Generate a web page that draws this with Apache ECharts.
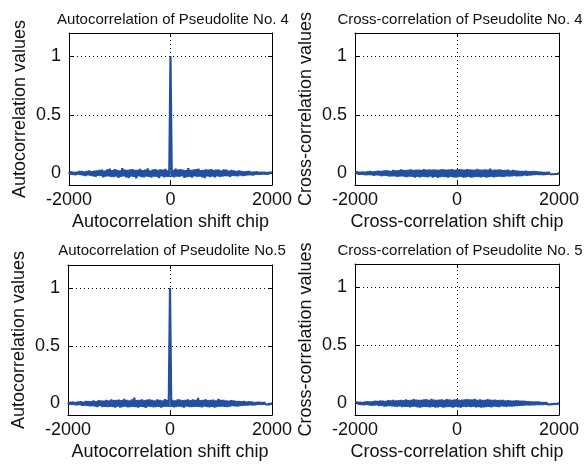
<!DOCTYPE html>
<html>
<head>
<meta charset="utf-8">
<script src="https://cdn.jsdelivr.net/npm/echarts@6/dist/echarts.min.js"></script>
<style>
  html, body { margin: 0; padding: 0; background: #fff; }
  #chart { width: 584px; height: 466px; }
</style>
</head>
<body>
<div id="chart"></div>
<script>
// shift chips: -2000 .. 2000, one sample every 25 chips (161 samples)
const shiftStart = -2000
const shiftStep = 25

const xTicks = [-2000, 0, 2000]
const yTicks = [0, 0.5, 1]

const titles = [
  'Autocorrelation of Pseudolite No. 4',
  'Cross-correlation of Pseudolite No. 4',
  'Autocorrelation of Pseudolite No.5',
  'Cross-correlation of Pseudolite No. 5'
]
const xNames = ['Autocorrelation shift chip', 'Cross-correlation shift chip', 'Autocorrelation shift chip', 'Cross-correlation shift chip']
const yNames = ['Autocorrelation values', 'Cross-correlation values', 'Autocorrelation values', 'Cross-correlation values']

const auto4 = [
  0.01,-0.01,0.015,-0.012,0.01,-0.015,0.012,-0.01,0.018,-0.014,
  0.02,-0.018,0.015,-0.022,0.02,-0.016,0.024,-0.02,0.018,-0.025,
  0.022,-0.03,0.025,-0.02,0.028,-0.024,0.03,-0.035,0.022,-0.028,
  0.032,-0.025,0.04,-0.03,0.026,-0.032,0.035,-0.028,0.03,-0.038,
  0.025,-0.03,0.045,-0.026,0.03,-0.034,0.028,-0.04,0.033,-0.027,
  0.036,-0.03,0.028,-0.042,0.03,-0.025,0.038,-0.032,0.027,-0.035,
  0.03,-0.028,0.042,-0.03,0.025,-0.036,0.032,-0.027,0.035,-0.03,
  0.028,-0.04,0.033,-0.026,0.03,-0.034,0.038,-0.03,0.025,-0.03,
  1,
  -0.03,0.028,-0.035,0.04,-0.027,0.032,-0.03,0.036,-0.025,0.03,
  -0.038,0.027,-0.033,0.045,-0.03,0.028,-0.036,0.032,-0.026,0.035,
  -0.03,0.04,-0.028,0.026,-0.034,0.03,-0.04,0.033,-0.025,0.03,
  -0.032,0.036,-0.027,0.028,-0.035,0.03,-0.026,0.032,-0.03,0.025,
  -0.028,0.034,-0.024,0.03,-0.026,0.022,-0.03,0.028,-0.02,0.025,
  -0.022,0.02,-0.026,0.024,-0.018,0.02,-0.022,0.016,-0.02,0.018,
  -0.015,0.02,-0.016,0.012,-0.018,0.014,-0.012,0.015,-0.01,0.012,
  -0.01,0.012,-0.008,0.01,-0.01,0.008,-0.01,0.008,-0.006,0.005
]

const cross4 = [
  0.006,-0.008,0.01,-0.01,0.012,-0.01,0.014,-0.012,0.012,-0.015,
  0.016,-0.014,0.018,-0.016,0.015,-0.02,0.018,-0.016,0.022,-0.018,
  0.02,-0.024,0.022,-0.02,0.026,-0.022,0.024,-0.028,0.02,-0.025,
  0.028,-0.026,0.024,-0.03,0.026,-0.028,0.032,-0.025,0.028,-0.03,
  0.026,-0.032,0.03,-0.028,0.034,-0.03,0.028,-0.036,0.03,-0.03,
  0.032,-0.034,0.028,-0.03,0.036,-0.03,0.03,-0.035,0.032,-0.028,
  0.03,-0.036,0.034,-0.03,0.032,-0.038,0.03,-0.032,0.036,-0.03,
  0.034,-0.032,0.03,-0.036,0.033,-0.03,0.035,-0.034,0.03,-0.036,
  0.034,
  -0.032,0.036,-0.03,0.034,-0.036,0.03,-0.034,0.035,-0.03,0.033,
  -0.036,0.03,-0.034,0.032,-0.03,0.038,-0.032,0.03,-0.034,0.032,
  -0.03,0.034,-0.036,0.03,-0.032,0.04,-0.03,0.028,-0.034,0.03,
  -0.03,0.032,-0.028,0.034,-0.03,0.026,-0.03,0.028,-0.026,0.03,
  -0.028,0.025,-0.026,0.028,-0.022,0.024,-0.026,0.022,-0.024,0.02,
  -0.022,0.02,-0.018,0.022,-0.02,0.016,-0.018,0.016,-0.016,0.018,
  -0.014,0.016,-0.012,0.014,-0.012,0.012,-0.014,0.01,-0.012,0.01,
  -0.01,0.01,-0.008,0.008,-0.008,0.007,-0.006,0.006,-0.005,0.004
]

const auto5 = [
  0.008,-0.01,0.012,-0.009,0.014,-0.012,0.01,-0.015,0.016,-0.012,
  0.018,-0.02,0.015,-0.018,0.022,-0.02,0.02,-0.024,0.018,-0.022,
  0.025,-0.026,0.02,-0.03,0.028,-0.022,0.026,-0.03,0.024,-0.028,
  0.03,-0.032,0.026,-0.028,0.034,-0.03,0.028,-0.035,0.03,-0.026,
  0.032,-0.036,0.028,-0.03,0.04,-0.028,0.03,-0.034,0.026,-0.032,
  0.035,-0.03,0.05,-0.032,0.028,-0.036,0.03,-0.028,0.034,-0.03,
  0.028,-0.038,0.032,-0.026,0.036,-0.03,0.03,-0.034,0.027,-0.032,
  0.034,-0.028,0.03,-0.036,0.026,-0.03,0.038,-0.028,0.03,-0.03,
  1,
  -0.028,0.03,-0.034,0.026,-0.03,0.036,-0.027,0.032,-0.03,0.028,
  -0.036,0.03,-0.026,0.034,-0.03,0.028,-0.032,0.035,-0.028,0.03,
  -0.03,0.048,-0.03,0.028,-0.034,0.03,-0.026,0.036,-0.03,0.028,
  -0.034,0.03,-0.028,0.032,-0.036,0.026,-0.03,0.04,-0.028,0.03,
  -0.026,0.03,-0.028,0.025,-0.03,0.024,-0.026,0.028,-0.022,0.026,
  -0.024,0.022,-0.026,0.02,-0.022,0.018,-0.02,0.022,-0.018,0.016,
  -0.016,0.018,-0.014,0.015,-0.016,0.012,-0.014,0.012,-0.01,0.012,
  -0.01,0.01,-0.008,0.01,-0.009,0.008,-0.008,0.007,-0.006,0.005
]

const cross5 = [
  0.008,-0.006,0.01,-0.01,0.012,-0.012,0.01,-0.014,0.015,-0.012,
  0.018,-0.016,0.015,-0.02,0.018,-0.018,0.022,-0.016,0.02,-0.022,
  0.024,-0.02,0.022,-0.026,0.02,-0.024,0.028,-0.022,0.026,-0.024,
  0.03,-0.028,0.025,-0.03,0.028,-0.026,0.03,-0.032,0.027,-0.03,
  0.033,-0.03,0.028,-0.034,0.03,-0.03,0.036,-0.028,0.032,-0.034,
  0.03,-0.035,0.03,-0.032,0.034,-0.03,0.036,-0.032,0.03,-0.034,
  0.038,-0.03,0.032,-0.036,0.03,-0.034,0.032,-0.03,0.035,-0.036,
  0.03,-0.034,0.036,-0.03,0.034,-0.032,0.03,-0.036,0.034,-0.03,
  0.036,
  -0.034,0.03,-0.036,0.032,-0.03,0.034,-0.032,0.036,-0.03,0.034,
  -0.032,0.035,-0.03,0.038,-0.034,0.03,-0.032,0.034,-0.036,0.03,
  -0.034,0.03,-0.032,0.036,-0.03,0.032,-0.034,0.03,-0.028,0.032,
  -0.03,0.028,-0.032,0.03,-0.026,0.03,-0.028,0.026,-0.03,0.028,
  -0.026,0.024,-0.028,0.022,-0.024,0.026,-0.022,0.024,-0.02,0.022,
  -0.02,0.022,-0.018,0.02,-0.016,0.018,-0.018,0.016,-0.015,0.016,
  -0.014,0.015,-0.012,0.014,-0.012,0.01,-0.012,0.01,-0.01,0.01,
  -0.008,0.009,-0.008,0.007,-0.006,0.006,-0.005,0.006,-0.004,0.004
]

const seriesData = [auto4, cross4, auto5, cross5]

// panel boxes (plot areas)
const grids = [
  { left: 69, top: 33, width: 203, height: 152 },
  { left: 355, top: 33, width: 204, height: 152 },
  { left: 68, top: 265, width: 204, height: 150 },
  { left: 355, top: 264, width: 204, height: 151 }
]
const titlePos = [
  { x: 168, y: 7 }, { x: 455, y: 7 }, { x: 167, y: 238 }, { x: 455, y: 238 }
]

const font = "'Liberation Sans', Arial, sans-serif"
const lineColor = '#1f4fa8'
const textColor = '#111'

const chart = echarts.init(document.getElementById('chart'), null, { renderer: 'canvas' })

const xAxes = []
const yAxes = []
const series = []

grids.forEach((g, i) => {
  // bottom axis with labels
  xAxes.push({
    gridIndex: i, type: 'value', min: -2000, max: 2000, interval: 2000,
    name: xNames[i], nameLocation: 'middle', nameGap: 28,
    nameTextStyle: { fontSize: 18, color: textColor, fontFamily: font },
    axisLine: { onZero: false, lineStyle: { color: '#000', width: 1 } },
    axisTick: { inside: true, length: 4, lineStyle: { color: '#000' } },
    axisLabel: { fontSize: 18, margin: 6, color: textColor, fontFamily: font,
      formatter: v => String(v) },
    splitLine: { show: false }
  })
  // top frame
  xAxes.push({
    gridIndex: i, type: 'value', min: -2000, max: 2000, interval: 2000, position: 'top',
    axisLine: { onZero: false, lineStyle: { color: '#000', width: 1 } },
    axisTick: { inside: true, length: 4, lineStyle: { color: '#000' } },
    axisLabel: { show: false }, splitLine: { show: false }
  })
  yAxes.push({
    gridIndex: i, type: 'value', min: -0.1, max: 1.2,
    name: yNames[i], nameLocation: 'middle', nameGap: 40, nameRotate: 90,
    nameTextStyle: { fontSize: 18, color: textColor, fontFamily: font },
    axisLine: { onZero: false, lineStyle: { color: '#000', width: 1 } },
    axisTick: { inside: true, length: 4, lineStyle: { color: '#000' }, customValues: yTicks },
    axisLabel: { fontSize: 18, margin: 8, color: textColor, fontFamily: font, customValues: yTicks },
    splitLine: { show: false }
  })
  yAxes.push({
    gridIndex: i, type: 'value', min: -0.1, max: 1.2, position: 'right',
    axisLine: { onZero: false, lineStyle: { color: '#000', width: 1 } },
    axisTick: { inside: true, length: 4, lineStyle: { color: '#000' }, customValues: yTicks },
    axisLabel: { show: false }, splitLine: { show: false }
  })
  series.push({
    type: 'line',
    xAxisIndex: i * 2, yAxisIndex: i * 2,
    data: seriesData[i].map((v, k) => [shiftStart + k * shiftStep, v]),
    showSymbol: false, symbol: 'none', sampling: null,
    lineStyle: { color: lineColor, width: 2.2 },
    z: 3,
    markLine: {
      silent: true, symbol: 'none', animation: false, z: 1,
      label: { show: false },
      lineStyle: { color: '#000', type: [1, 3], width: 1 },
      data: [{ yAxis: 0.5 }, { yAxis: 1 }, { xAxis: 0 }]
    }
  })
})

const options = {
  animation: false,
  backgroundColor: '#fff',
  title: titles.map((t, i) => ({
    text: t, left: titlePos[i].x, top: titlePos[i].y, textAlign: 'center',
    textStyle: { fontSize: 15, fontWeight: 'normal', color: textColor, fontFamily: font }
  })),
  grid: grids,
  xAxis: xAxes,
  yAxis: yAxes,
  series: series
}

chart.setOption(options)
window.addEventListener('resize', chart.resize)
</script>
</body>
</html>
